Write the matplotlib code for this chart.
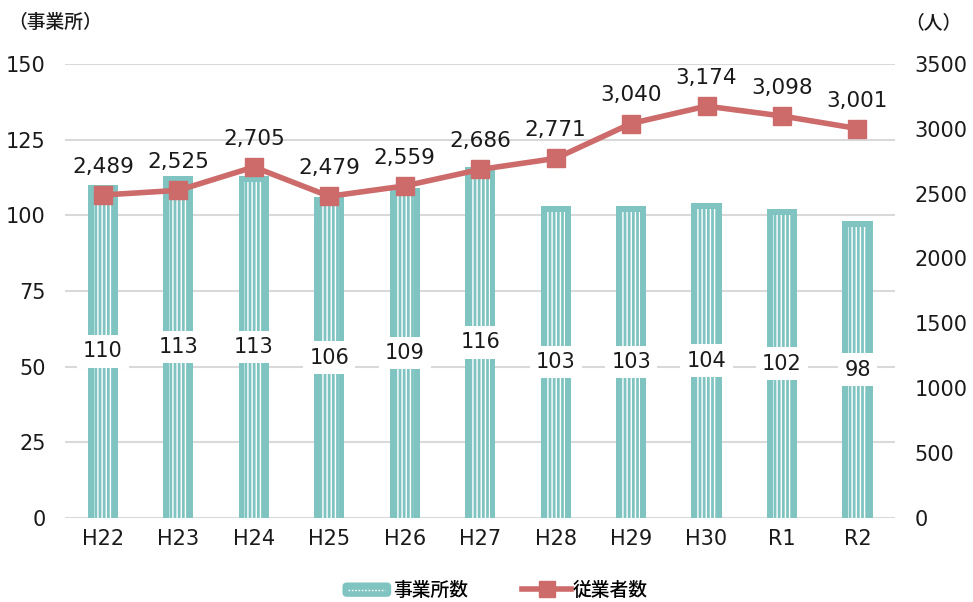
import matplotlib
matplotlib.use("Agg")
import matplotlib.pyplot as plt
from matplotlib.lines import Line2D
from matplotlib.patches import Patch, FancyBboxPatch
from matplotlib.legend_handler import HandlerBase
import numpy as np

plt.rcParams['font.family'] = ['DejaVu Sans', 'Noto Sans CJK JP']

categories = ["H22", "H23", "H24", "H25", "H26", "H27", "H28", "H29", "H30", "R1", "R2"]
offices = [110, 113, 113, 106, 109, 116, 103, 103, 104, 102, 98]
workers = [2489, 2525, 2705, 2479, 2559, 2686, 2771, 3040, 3174, 3098, 3001]

teal = "#80C4C2"
red = "#CD6A6A"
txt = "#1a1a1a"
jp = ['Noto Sans CJK JP', 'DejaVu Sans']


class BarHandler(HandlerBase):
    def create_artists(self, legend, orig_handle, xdescent, ydescent, width, height,
                       fontsize, trans):
        h = height * 1.0
        y0 = -ydescent + (height - h) / 2
        box = FancyBboxPatch((-xdescent, y0), width, h,
                             boxstyle="round,pad=0,rounding_size=%f" % (h * 0.3),
                             fc=teal, ec="none", transform=trans)
        ln = Line2D([-xdescent + width * 0.12, -xdescent + width * 0.88],
                    [y0 + h / 2, y0 + h / 2], color="white", linewidth=1,
                    linestyle=(0, (1.2, 1.2)), transform=trans)
        return [box, ln]


fig = plt.figure(figsize=(9.73, 6.02), dpi=100)
ax = fig.add_axes([0.067, 0.1395, 0.853, 0.7545])
ax2 = ax.twinx()

x = np.arange(len(categories))
bw = 0.40
ax.bar(x, offices, width=bw, color=teal, edgecolor=teal, linewidth=0, zorder=2)
ax.bar(x, offices, width=bw * 0.62, bottom=0, color="none", edgecolor="white",
       hatch="||||", linewidth=0, zorder=3)
ax.bar(x, [2.0] * len(x), bottom=np.array(offices) - 2.0, width=bw, color=teal, linewidth=0, zorder=4)

for xi, v in zip(x, offices):
    ax.text(xi, v / 2, str(v), ha="center", va="center", fontsize=15, zorder=6, color=txt,
            bbox=dict(boxstyle="square,pad=0.3", fc="white", ec="none"))

ax.set_ylim(0, 150)
ax.set_yticks([0, 25, 50, 75, 100, 125, 150])
ax.set_xlim(-0.5, len(x) - 0.5)
ax.set_xticks(x)
ax.set_xticklabels(categories)
ax.grid(axis="y", color="#D9D9D9", linewidth=1.5, zorder=0)
ax.set_axisbelow(True)

ax2.plot(x, workers, color=red, linewidth=4, marker="s", markersize=13, zorder=5)
for xi, v in zip(x, workers):
    ax2.annotate(f"{v:,}", (xi, v), xytext=(0, 13), textcoords="offset points",
                 ha="center", va="bottom", fontsize=15.5, color=txt)
ax2.set_ylim(0, 3500)
ax2.set_yticks(range(0, 3501, 500))

for a in (ax, ax2):
    for s in a.spines.values():
        s.set_visible(False)
    a.tick_params(length=0, labelsize=15, colors=txt)
ax.tick_params(axis="y", pad=14)
ax2.tick_params(axis="y", pad=14)
ax.tick_params(axis="x", pad=8)

fig.text(0.008, 0.962, "（事業所）", fontsize=13.5, ha="left", va="center", color=txt,
         family=jp, fontweight="medium")
fig.text(0.988, 0.962, "（人）", fontsize=13.5, ha="right", va="center", color=txt,
         family=jp, fontweight="medium")

h1 = Patch(facecolor=teal)
h2 = Line2D([], [], color=red, linewidth=4, marker="s", markersize=11)
leg = fig.legend(handles=[h1, h2], labels=["事業所数", "従業者数"],
                 handler_map={Patch: BarHandler()},
                 loc="lower center", bbox_to_anchor=(0.509, -0.025), ncol=2,
                 frameon=False, handlelength=2.6, handleheight=0.8,
                 handletextpad=0.1, columnspacing=2.9,
                 prop={'family': jp, 'size': 13.5, 'weight': 'medium'})

fig.savefig("out.png", dpi=100)
